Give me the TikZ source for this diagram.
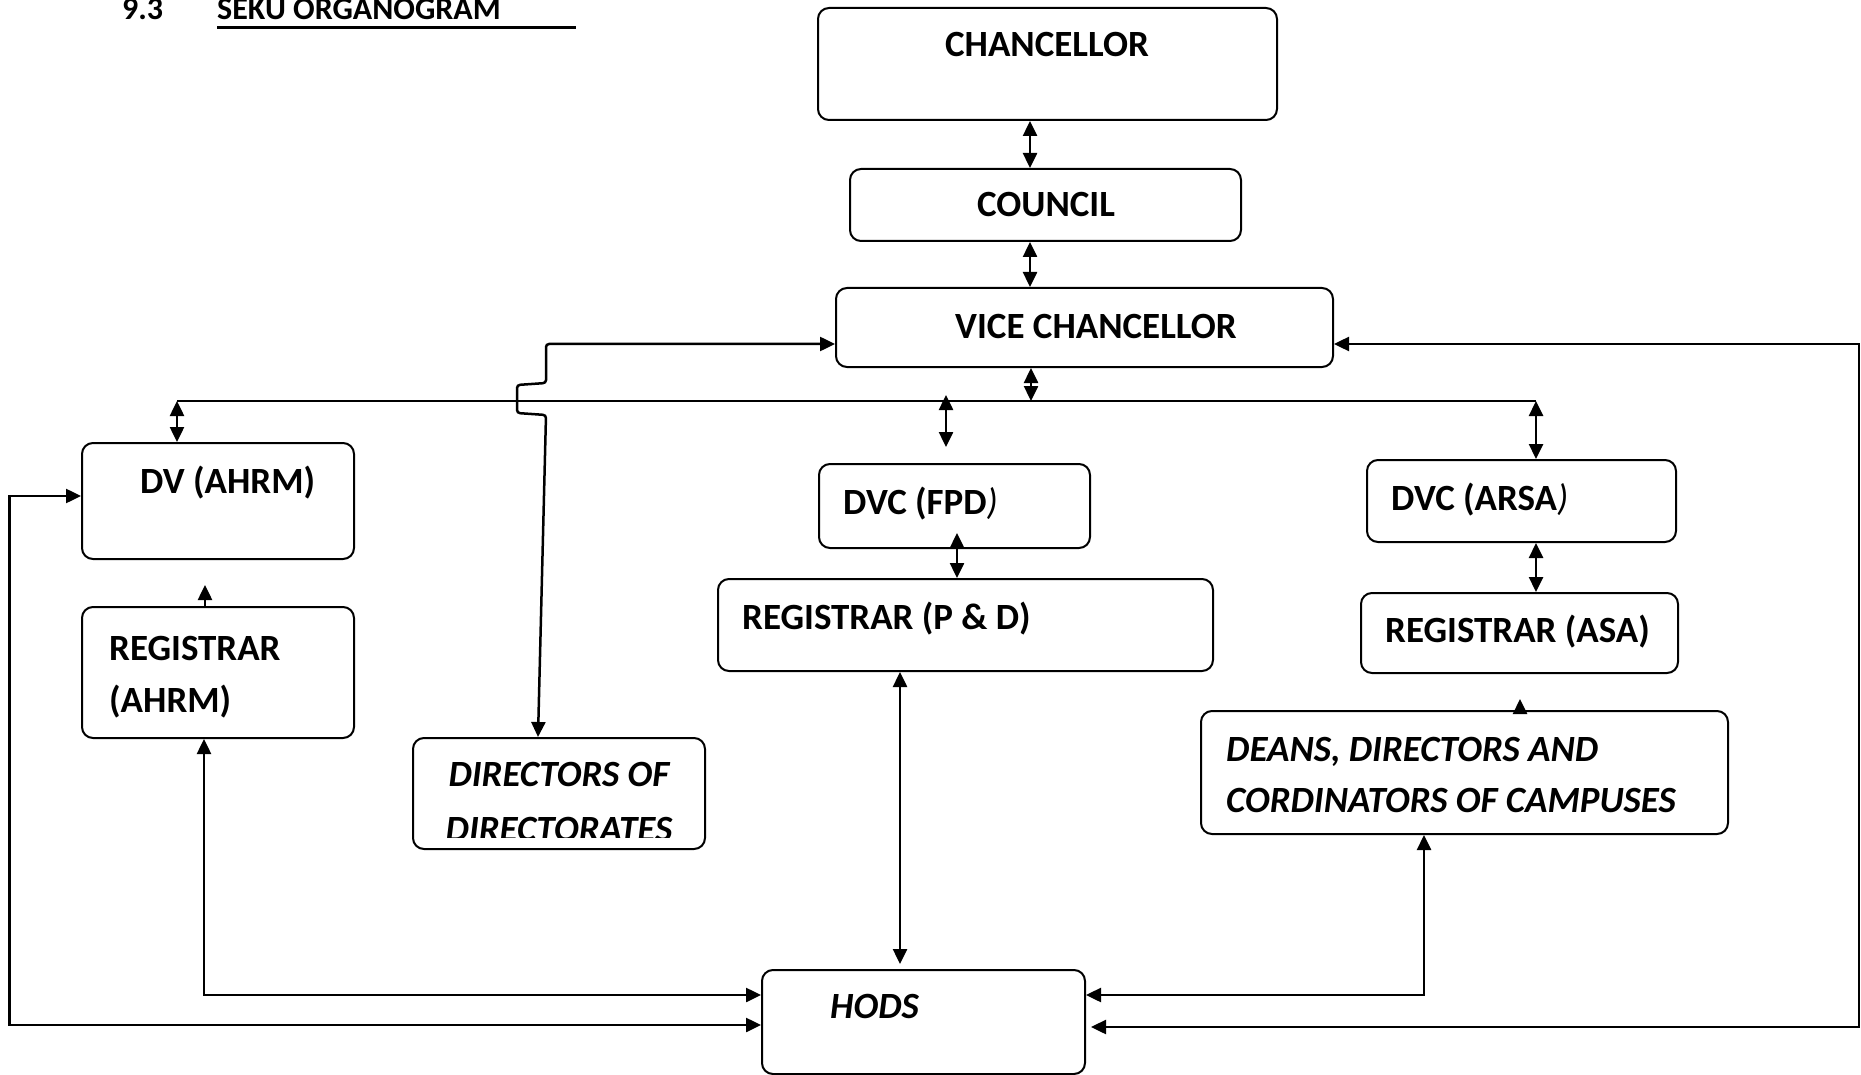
\documentclass[tikz,border=0pt]{standalone}
\usepackage{fontspec}
\setmainfont{Carlito}
\usetikzlibrary{arrows.meta,calc}
\begin{document}
\begin{tikzpicture}[x=1pt,y=-1pt,
  box/.style={draw, line width=2pt, rounded corners=11pt, inner sep=0pt},
  lbl/.style={font=\fontsize{37}{44}\selectfont\bfseries, inner sep=0pt, anchor=base west},
  ilbl/.style={font=\fontsize{37}{44}\selectfont\bfseries\itshape, inner sep=0pt, anchor=base west},
  conn/.style={line width=2.5pt},
  tip/.style={-{Triangle[length=15pt,width=14pt]}},
  dbl/.style={{Triangle[length=15pt,width=14pt]}-{Triangle[length=15pt,width=14pt]}}]
\useasboundingbox (0,0) rectangle (1861,1075);

% title
\node[font=\fontsize{32}{38}\selectfont\bfseries, inner sep=0pt, anchor=base west] (tnum) at (122,20) {9.3};
\node[font=\fontsize{32}{38}\selectfont\bfseries, inner sep=0pt, anchor=base west] (ttl) at (217,20) {SEKU ORGANOGRAM};
\coordinate (ul1) at (217,28);
\coordinate (ul2) at (576,28);
\draw[line width=3pt] (ul1) -- (ul2);

% boxes
\node[box, minimum width=459pt, minimum height=112pt] (chan) at (1047.5,64) {};
\node[box, minimum width=391pt, minimum height=72pt] (council) at (1045.5,205) {};
\node[box, minimum width=497pt, minimum height=79pt] (vc) at (1084.5,327.5) {};
\node[box, minimum width=272pt, minimum height=116pt] (dv) at (218,501) {};
\node[box, minimum width=272pt, minimum height=131pt] (regA) at (218,672.5) {};
\node[box, minimum width=292pt, minimum height=111pt] (dir) at (559,793.5) {};
\node[box, minimum width=271pt, minimum height=84pt] (dvcf) at (954.5,506) {};
\node[box, minimum width=495pt, minimum height=92pt] (regP) at (965.5,625) {};
\node[box, minimum width=309pt, minimum height=82pt] (dvca) at (1521.5,501) {};
\node[box, minimum width=317pt, minimum height=80pt] (regS) at (1519.5,633) {};
\node[box, minimum width=527pt, minimum height=123pt] (deans) at (1464.5,772.5) {};
\node[box, minimum width=323pt, minimum height=104pt] (hods) at (923.5,1022) {};

% texts
\node[lbl, anchor=base] (tchan) at (1047,57) {CHANCELLOR};
\node[lbl, anchor=base] (tcouncil) at (1046,217) {COUNCIL};
\node[lbl] (tvc) at (955,338) {VICE CHANCELLOR};
\node[lbl] (tdv) at (140,493) {DV (AHRM)};
\node[lbl] (tregA1) at (109,660) {REGISTRAR};
\node[lbl] (tregA2) at (109,712) {(AHRM)};
\node[lbl] (tdvcf) at (843,514) {DVC (FPD{\normalfont\itshape )}};
\node[lbl] (tregP) at (742,629) {REGISTRAR (P \& D)};
\node[lbl] (tdvca) at (1391,510) {DVC (ARSA{\normalfont\itshape )}};
\node[lbl] (tregS) at (1385,642) {REGISTRAR (ASA)};
\node[ilbl] (tdeans1) at (1226,761) {DEANS, DIRECTORS AND};
\node[ilbl] (tdeans2) at (1226,812) {CORDINATORS OF CAMPUSES};
\node[ilbl] (thods) at (830,1018) {HODS};
\node[ilbl, anchor=base] (tdir1) at (559,786) {DIRECTORS OF};
\begin{scope}
  \clip (413,738) rectangle (705,837);
  \node[ilbl, anchor=base] (tdir2) at (559,841) {DIRECTORATES};
\end{scope}

% coordinates
\coordinate (bl) at (177,401);
\coordinate (br) at (1536,401);
\coordinate (bj) at (1031,401);
\coordinate (fa) at (946,395);
\coordinate (fb) at (946,447);
\coordinate (j1) at (546,344);
\coordinate (j2) at (546,383);
\coordinate (j3) at (517,385);
\coordinate (j4) at (517,413);
\coordinate (j5) at (546,415);
\coordinate (lc1) at (9.5,496);
\coordinate (lc2) at (9.5,1025);
\coordinate (rc1) at (1859,344);
\coordinate (rc2) at (1859,1027);
\coordinate (dtip) at (1520,699);

% connectors
\draw[conn, dbl] (1030,0 |- chan.south) -- (1030,0 |- council.north);
\draw[conn, dbl] (1030,0 |- council.south) -- (1030,0 |- vc.north);
\draw[conn, dbl] (1031,0 |- vc.south) -- (bj);
\draw[conn] (bl) -- (br);
\draw[conn, dbl] (bl) -- (bl |- dv.north);
\draw[conn, dbl] (fa) -- (fb);
\draw[conn, dbl] (957,533) -- (957,0 |- regP.north);
\draw[conn, dbl] (br) -- (br |- dvca.north);
\draw[conn, dbl] (1536,0 |- dvca.south) -- (1536,0 |- regS.north);
\draw[conn, tip] (1520,0 |- deans.north) -- (dtip);
\draw[conn, dbl] (900,0 |- regP.south) -- (900,964);
\draw[conn, tip] (205,0 |- regA.north) -- (205,585);
\draw[conn, dbl] (204,0 |- regA.south) |- (hods.west |- 0,995);
\draw[conn, dbl] (dv.west |- lc1) -- (lc1) -- (lc2) -- (hods.west |- lc2);
\draw[conn, dbl] (1424,0 |- deans.south) |- (hods.east |- 0,995);
\draw[conn, dbl] (vc.east |- rc1) -- (rc1) -- (rc2) -- ($(hods.east |- rc2)+(5,0)$);
\draw[conn, dbl, rounded corners=3pt] (vc.west |- j1) -- (j1) -- (j2) -- (j3) -- (j4) -- (j5) -- (538,0 |- dir.north);
\end{tikzpicture}
\end{document}
